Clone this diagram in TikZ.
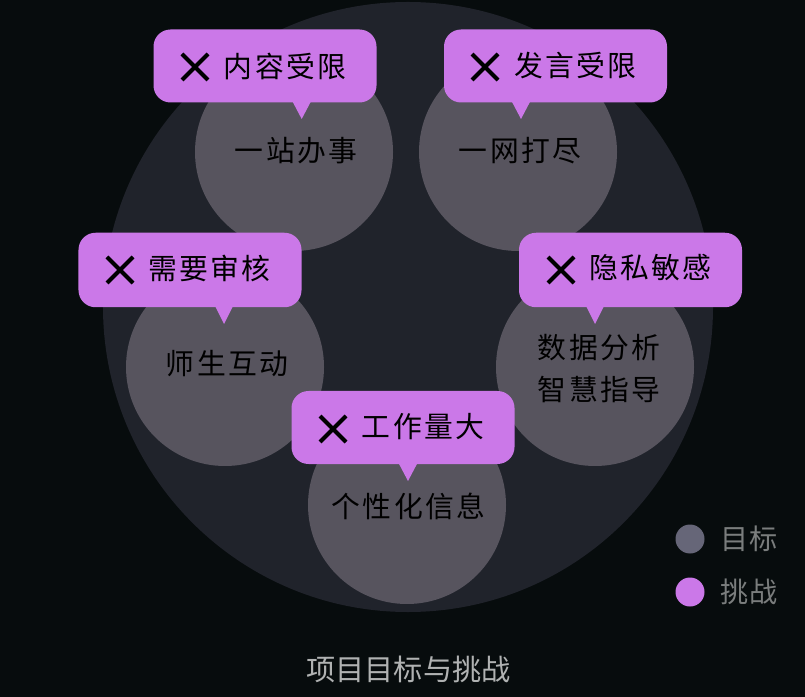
\documentclass[tikz,border=0pt]{standalone}
\usepackage{fontspec}
\newfontfamily\cjk[LetterSpace=8]{Noto Sans CJK SC}
\newfontfamily\cjkplain{Noto Sans CJK SC}
\definecolor{pagebg}{HTML}{070C0D}
\definecolor{discbg}{HTML}{20232B}
\definecolor{goalbg}{HTML}{57545E}
\definecolor{challengebg}{HTML}{CB78E8}
\definecolor{legendgoal}{HTML}{666678}
\definecolor{legendtext}{HTML}{7A7D7D}
\definecolor{titletext}{HTML}{B0B2B2}
\begin{document}
\begin{tikzpicture}[scale=0.2,
	goal/.style={circle,fill=goalbg,inner sep=0pt,minimum size=3.96cm},
	goaltext/.style={inner sep=0pt,text=black,align=center,font=\cjk\fontsize{16.4pt}{24pt}\selectfont},
	challenge/.style={fill=challengebg,rounded corners=9.7pt,inner sep=0pt,minimum width=4.46cm,minimum height=1.46cm},
	challengetext/.style={inner sep=0pt,text=black,font=\cjk\fontsize{16.4pt}{20pt}\selectfont},
	crossline/.style={black,line width=2.3pt},
	legenddot/.style={circle,inner sep=0pt,minimum size=0.58cm},
	legendlabel/.style={inner sep=0pt,text=legendtext,font=\cjkplain\fontsize{16pt}{20pt}\selectfont}]
	\useasboundingbox (0,0) rectangle (80.5,-69.7);
	\fill [pagebg] (0,0) rectangle (80.5,-69.7);
	\node [circle,fill=discbg,inner sep=0pt,minimum size=12.2cm] (disc) at (40.8,-30.7) {};

	\node [goal] (oneStop) at (29.4,-15.2) {};
	\node [goal] (oneNet) at (51.8,-15.2) {};
	\node [goal] (interact) at (22.5,-36.7) {};
	\node [goal] (guide) at (59.5,-36.7) {};
	\node [goal] (personal) at (40.7,-50.5) {};
	\node [goaltext] (oneStopText) at (29.6,-15.1) {一站办事};
	\node [goaltext] (oneNetText) at (52,-15.1) {一网打尽};
	\node [goaltext] (interactText) at (22.7,-36.4) {师生互动};
	\node [goaltext] (guideText) at (59.9,-36.85) {数据分析\\智慧指导};
	\node [goaltext] (personalText) at (40.85,-50.6) {个性化信息};

	\node [challenge] (limitContent) at (26.5,-6.6) {};
	\fill [challengebg] (29.17,-10) -- (31.17,-10) -- (30.17,-11.9) -- cycle;
	\draw [crossline] (18.2,-5.4) -- (20.8,-8);
	\draw [crossline] (18.2,-8) -- (20.8,-5.4);
	\node [challengetext] (limitContentText) at (28.5,-6.6) {内容受限};

	\node [challenge] (limitSpeech) at (55.55,-6.6) {};
	\fill [challengebg] (51.1,-10) -- (53.1,-10) -- (52.1,-11.9) -- cycle;
	\draw [crossline] (47.2,-5.4) -- (49.8,-8);
	\draw [crossline] (47.2,-8) -- (49.8,-5.4);
	\node [challengetext] (limitSpeechText) at (57.55,-6.6) {发言受限};

	\node [challenge,minimum height=1.49cm] (needReview) at (19,-27) {};
	\fill [challengebg] (21.4,-30.4) -- (23.4,-30.4) -- (22.4,-32.4) -- cycle;
	\draw [crossline] (10.7,-25.7) -- (13.3,-28.3);
	\draw [crossline] (10.7,-28.3) -- (13.3,-25.7);
	\node [challengetext] (needReviewText) at (20.95,-26.8) {需要审核};

	\node [challenge,minimum height=1.49cm] (privacy) at (63.05,-27) {};
	\fill [challengebg] (58.5,-30.4) -- (60.5,-30.4) -- (59.5,-32.4) -- cycle;
	\draw [crossline] (54.8,-25.7) -- (57.4,-28.3);
	\draw [crossline] (54.8,-28.3) -- (57.4,-25.7);
	\node [challengetext] (privacyText) at (65.05,-26.8) {隐私敏感};

	\node [challenge] (heavyWork) at (40.3,-42.75) {};
	\fill [challengebg] (39.8,-46.2) -- (41.8,-46.2) -- (40.8,-48.1) -- cycle;
	\draw [crossline] (32,-41.6) -- (34.6,-44.2);
	\draw [crossline] (32,-44.2) -- (34.6,-41.6);
	\node [challengetext] (heavyWorkText) at (42.3,-42.7) {工作量大};

	\node [legenddot,fill=legendgoal] (legendGoal) at (69,-53.9) {};
	\node [legenddot,fill=challengebg] (legendChallenge) at (69,-59.2) {};
	\node [legendlabel] (legendGoalText) at (74.9,-53.9) {目标};
	\node [legendlabel] (legendChallengeText) at (74.9,-59.2) {挑战};
	\node [inner sep=0pt,text=titletext,font=\cjkplain\fontsize{16.6pt}{20pt}\selectfont] (title) at (40.85,-66.9) {项目目标与挑战};
\end{tikzpicture}
\end{document}
